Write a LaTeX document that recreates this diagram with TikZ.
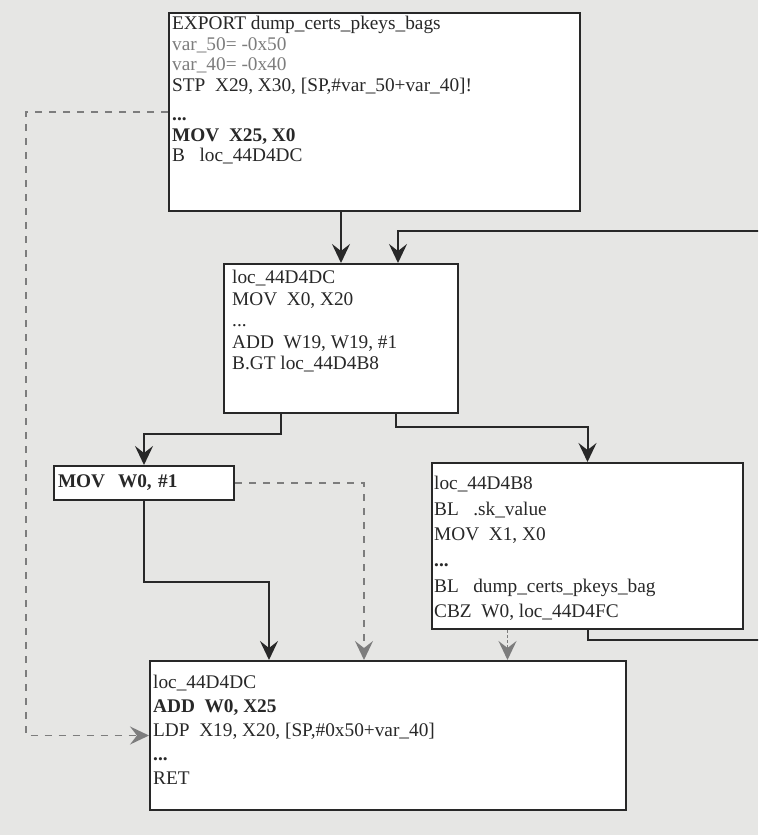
\documentclass[tikz,border=0pt]{standalone}
\usepackage{fontspec}
\setmainfont{Liberation Serif}
\usetikzlibrary{arrows.meta,positioning,calc}

\definecolor{paper}{RGB}{230,230,228}
\definecolor{ink}{RGB}{40,40,40}
\definecolor{dim}{RGB}{125,125,125}

\begin{document}
\begin{tikzpicture}[x=1pt, y=-1pt,
    blk/.style={draw=ink, line width=2pt, fill=white, inner sep=0pt, anchor=north west},
    asm/.style={inner sep=0pt, anchor=north west, align=left, text=ink,
                font=\fontsize{19.3}{#1}\selectfont},
    asm/.default=21,
    flow/.style={-{Stealth[length=19pt, width=18pt, inset=7pt]}, line width=2pt, draw=ink},
    alt/.style={-{Stealth[length=19pt, width=18pt, inset=7pt]}, line width=1.6pt, draw=dim,
                dash pattern=on 7pt off 7pt},
    alt2/.style={-{Stealth[length=19pt, width=18pt, inset=7pt]}, line width=1.6pt, draw=dim,
                dash pattern=on 3pt off 2pt}
  ]
    \fill[paper] (0,0) rectangle (758,835);
    \clip (0,0) rectangle (758,835);

    %% ── entry ──
    \node[blk, minimum width=411pt, minimum height=198pt] (entry) at (168,12) {};
    \node[asm=20.7] (entry-t) at ([shift={(4,4)}]entry.north west)
      {EXPORT dump\_certs\_pkeys\_bags\\
       {\color{dim}var\_50= -0x50}\\
       {\color{dim}var\_40= -0x40}\\
       STP\ \ X29, X30, [SP,\#var\_50+var\_40]!\\[8pt]
       \textbf{...}\\
       \textbf{MOV\ \ X25, X0}\\
       B\ \ \ loc\_44D4DC};

    %% ── loop ──
    \node[blk, minimum width=234pt, minimum height=149pt] (loop) at (223,263) {};
    \node[asm=21.5] (loop-t) at ([shift={(9,7)}]loop.north west)
      {loc\_44D4DC\\
       MOV\ \ X0, X20\\
       ...\\
       ADD\ \ W19, W19, \#1\\
       B.GT loc\_44D4B8};

    %% ── mov w0 ──
    \node[blk, minimum height=34pt, text width=172pt, inner xsep=4pt, align=left,
          font=\fontsize{19.3}{21}\selectfont\bfseries, text=ink] (movw) at (53,465)
      {MOV\ \ W0, \#1};

    %% ── body ──
    \node[blk, minimum width=311pt, minimum height=166pt] (body) at (431,462) {};
    \node[asm=25.6] (body-t) at ([shift={(3,14)}]body.north west)
      {loc\_44D4B8\\
       BL\ \ \ .sk\_value\\
       MOV\ \ X1, X0\\
       \textbf{...}\\
       BL\ \ \ dump\_certs\_pkeys\_bag\\
       CBZ\ \ W0, loc\_44D4FC};

    %% ── exit ──
    \node[blk, minimum width=476pt, minimum height=149pt] (exit) at (149,660) {};
    \node[asm=24] (exit-t) at ([shift={(4,15)}]exit.north west)
      {loc\_44D4DC\\
       \textbf{ADD\ \ W0, X25}\\
       LDP\ \ X19, X20, [SP,\#0x50+var\_40]\\
       \textbf{...}\\
       RET};

    %% ── branches ──
    \coordinate (far) at (775,231);
    \coordinate (lft) at (26,0);
    \draw[flow] (entry.south -| loop.north) -- (loop.north);
    \draw[flow] (body.south) -- ++(0,10) -| (far) -| ([xshift=57pt]loop.north);
    \draw[flow] ([xshift=-60pt]loop.south) -- ++(0,20) -| (movw.north);
    \draw[flow] ([xshift=55pt]loop.south) -- ++(0,13) -| (body.north);
    \draw[flow] (movw.south) -- ++(0,81) -| ([xshift=-119pt]exit.north);
    \draw[alt] (movw.east) -| ([xshift=-24pt]exit.north);
    \draw[alt2] ([xshift=-80pt]body.south) -- ([xshift=-80pt]body.south |- exit.north);
    \draw[alt] (entry.west) -- (entry.west -| lft) |- (exit.west);
  \end{tikzpicture}
\end{document}
